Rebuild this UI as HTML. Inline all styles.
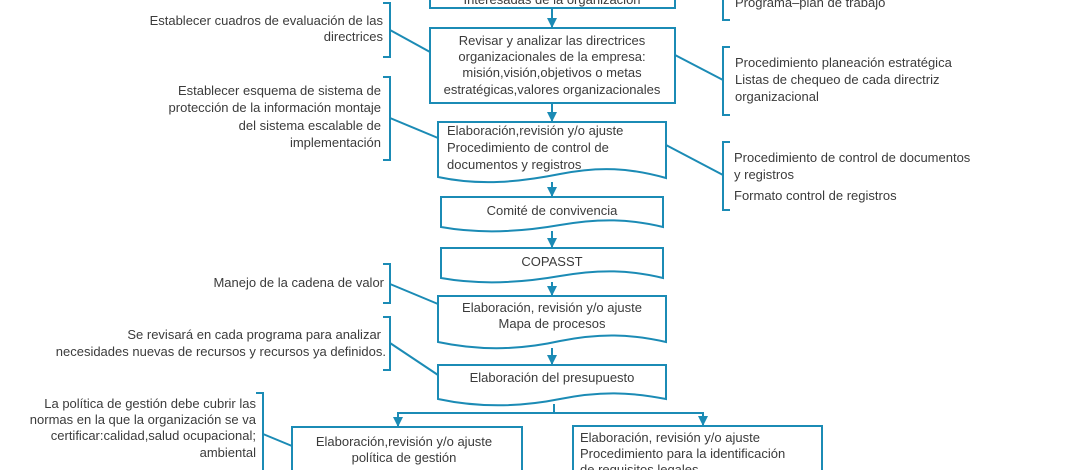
<!DOCTYPE html>
<html><head><meta charset="utf-8"><style>
html,body{margin:0;padding:0;background:#fff;}
svg{display:block;}
text{font-family:"Liberation Sans",sans-serif;font-size:13px;fill:#3b3b3b;}
</style></head><body>
<svg width="1070" height="470" viewBox="0 0 1070 470" xmlns="http://www.w3.org/2000/svg">
<defs><marker id="a" viewBox="0 0 10 10" refX="9" refY="5" markerWidth="5" markerHeight="5" orient="auto"><path d="M0,0 L10,5 L0,10 z" fill="#1b8bb5"/></marker></defs>
<g fill="none" stroke="#1b8bb5" stroke-width="2">
<!-- top box -->
<rect x="430" y="-10" width="245" height="18"/>
<line x1="552" y1="8" x2="552" y2="27" marker-end="url(#a)"/>
<rect x="430" y="28" width="245" height="75"/>
<line x1="552" y1="103" x2="552" y2="121" marker-end="url(#a)"/>
<path d="M438,122 H666 V178 C630,168 600,166 560,174 C520,182 480,186 438,177 Z"/>
<line x1="552" y1="182" x2="552" y2="196" marker-end="url(#a)"/>
<path d="M441,197 H663 V227 C630,219 600,218 560,225 C520,232 480,234 441,227 Z"/>
<line x1="552" y1="231" x2="552" y2="247" marker-end="url(#a)"/>
<path d="M441,248 H663 V278 C630,270 600,269 560,276 C520,283 480,285 441,278 Z"/>
<line x1="552" y1="282" x2="552" y2="295" marker-end="url(#a)"/>
<path d="M438,296 H666 V342 C630,334 600,333 560,341 C520,350 480,351 438,342 Z"/>
<line x1="552" y1="348" x2="552" y2="364" marker-end="url(#a)"/>
<path d="M438,365 H666 V399 C630,392 600,391 560,399 C520,407 480,408 438,399 Z"/>
<polyline points="554,404 554,413 398,413 398,426" marker-end="url(#a)"/>
<polyline points="554,413 703,413 703,425" marker-end="url(#a)"/>
<rect x="292" y="427" width="230" height="60"/>
<rect x="573" y="426" width="249" height="60"/>
<!-- left brackets -->
<polyline points="383,3 390,3 390,57 383,57"/><line x1="390" y1="30" x2="430" y2="52"/>
<polyline points="383,77 390,77 390,160 383,160"/><line x1="390" y1="118" x2="438" y2="138"/>
<polyline points="383,264 390,264 390,303 383,303"/><line x1="390" y1="284" x2="438" y2="304"/>
<polyline points="383,317 390,317 390,370 383,370"/><line x1="390" y1="343" x2="438" y2="375"/>
<polyline points="256,393 263,393 263,480"/><line x1="263" y1="434" x2="292" y2="446"/>
<!-- right brackets -->
<polyline points="730,-5 723,-5 723,20 730,20"/>
<polyline points="730,47 723,47 723,115 730,115"/><line x1="675" y1="55" x2="723" y2="80"/>
<polyline points="730,142 723,142 723,210 730,210"/><line x1="666" y1="145" x2="723" y2="175"/>
</g>
<g text-anchor="middle">
<text x="552" y="4">Interesadas de la organización</text>
<text x="552" y="45">Revisar y analizar las directrices</text>
<text x="552" y="61">organizacionales de la empresa:</text>
<text x="552" y="77">misión,visión,objetivos o metas</text>
<text x="552" y="94">estratégicas,valores organizacionales</text>
<text x="552" y="215">Comité de convivencia</text>
<text x="552" y="266">COPASST</text>
<text x="552" y="312">Elaboración, revisión y/o ajuste</text>
<text x="552" y="328">Mapa de procesos</text>
<text x="552" y="382">Elaboración del presupuesto</text>
<text x="404" y="446">Elaboración,revisión y/o ajuste</text>
<text x="404" y="462">política de gestión</text>
</g>
<text x="447" y="135">Elaboración,revisión y/o ajuste</text>
<text x="447" y="152">Procedimiento de control de</text>
<text x="447" y="169">documentos y registros</text>
<text x="580" y="442">Elaboración, revisión y/o ajuste</text>
<text x="580" y="458">Procedimiento para la identificación</text>
<text x="580" y="474">de requisitos legales</text>
<g text-anchor="end">
<text x="383" y="25">Establecer cuadros de evaluación de las</text>
<text x="383" y="41">directrices</text>
<text x="381" y="95">Establecer esquema de sistema de</text>
<text x="381" y="112">protección de la información montaje</text>
<text x="381" y="130">del sistema escalable de</text>
<text x="381" y="147">implementación</text>
<text x="384" y="287">Manejo de la cadena de valor</text>
<text x="381" y="339">Se revisará en cada programa para analizar</text>
<text x="386" y="356">necesidades nuevas de recursos y recursos ya definidos.</text>
<text x="256" y="408">La política de gestión debe cubrir las</text>
<text x="256" y="424">normas en la que la organización se va</text>
<text x="256" y="440">certificar:calidad,salud ocupacional;</text>
<text x="256" y="457">ambiental</text>
</g>
<text x="735" y="7">Programa–plan de trabajo</text>
<text x="735" y="67">Procedimiento planeación estratégica</text>
<text x="735" y="84">Listas de chequeo de cada directriz</text>
<text x="735" y="101">organizacional</text>
<text x="734" y="162">Procedimiento de control de documentos</text>
<text x="734" y="179">y registros</text>
<text x="734" y="200">Formato control de registros</text>
</svg>
</body></html>
